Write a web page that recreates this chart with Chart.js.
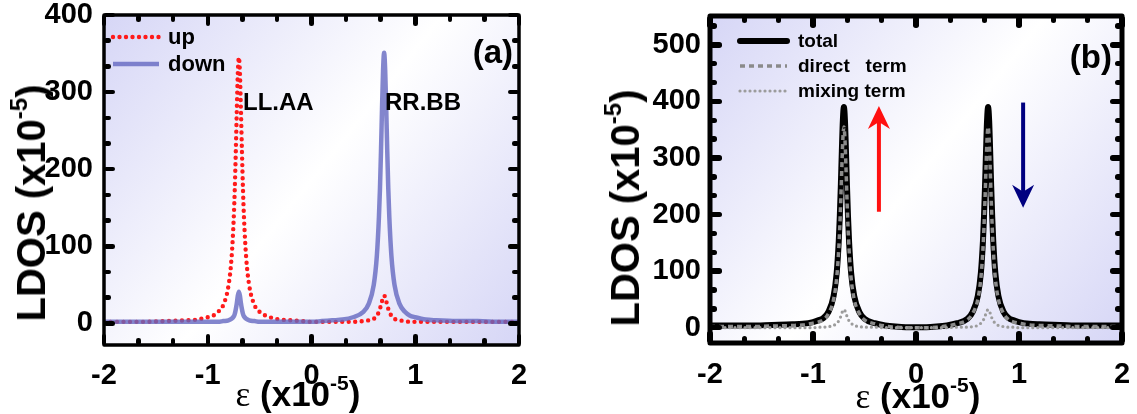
<!DOCTYPE html>
<html>
<head>
<meta charset="utf-8">
<script src="https://cdn.jsdelivr.net/npm/chart.js@4.4.1/dist/chart.umd.min.js"></script>
<style>
  html, body { margin: 0; padding: 0; background: #fff; }
  #wrap { position: relative; width: 1137px; height: 414px; overflow: hidden; font-family: "Liberation Sans", Arial, sans-serif; }
  canvas { position: absolute; top: 0; }
  .lbl { position: absolute; font-weight: bold; color: #000; white-space: nowrap; line-height: 1; }
  .ytitle { transform: translate(-50%, -50%) rotate(-90deg); }
  .xtitle { transform: translate(-50%, -50%); }
  .sup { font-size: 0.6em; position: relative; top: -0.75em; }
  .eps { font-family: "Liberation Serif", serif; font-weight: normal; }
  .tk { position: absolute; background: #000; }
</style>
</head>
<body>
<div id="wrap">
  <canvas id="chartA" width="560" height="414" style="left:0"></canvas>
  <canvas id="chartB" width="577" height="414" style="left:560px"></canvas>

  <div class="lbl ytitle" style="left:31px; top:203px; font-size:40px;">LDOS (x10<span class="sup">-5</span>)</div>
  <div class="lbl xtitle" style="left:298px; top:394px; font-size:35px;"><span class="eps">ε</span> (x10<span class="sup">-5</span>)</div>
  <div class="lbl" style="left:513px; top:51px; font-size:33px; transform:translate(-100%,-50%);">(a)</div>
  <div class="lbl" style="left:243px; top:102px; font-size:24px; transform:translate(0,-50%);">LL.AA</div>
  <div class="lbl" style="left:385px; top:102px; font-size:24px; transform:translate(0,-50%);">RR.BB</div>

  <div class="lbl ytitle" style="left:625px; top:208px; font-size:40px;">LDOS (x10<span class="sup">-5</span>)</div>
  <div class="lbl xtitle" style="left:918px; top:396px; font-size:35px;"><span class="eps">ε</span> (x10<span class="sup">-5</span>)</div>
  <div class="lbl" style="left:1112px; top:56px; font-size:33px; transform:translate(-100%,-50%);">(b)</div>
</div>
<script>
// energy grid (x10^-5), shared by both panels
const eps = [-2, -1.8, -1.6, -1.4, -1.2, -1.1, -1.0, -0.95, -0.9, -0.85, -0.8, -0.77, -0.75, -0.74, -0.73, -0.72, -0.71,
  -0.70, -0.69, -0.68, -0.67, -0.66, -0.65, -0.63, -0.6, -0.55, -0.5, -0.4, -0.3, -0.2, -0.1, 0,
  0.1, 0.2, 0.3, 0.4, 0.5, 0.55, 0.6, 0.63, 0.65, 0.66, 0.67, 0.68, 0.69, 0.70,
  0.71, 0.72, 0.73, 0.74, 0.75, 0.77, 0.8, 0.85, 0.9, 0.95, 1.0, 1.1, 1.2, 1.4, 1.6, 1.8, 2];

// panel (a)
const up = [2, 2, 2, 3, 4, 5, 8, 10, 15, 24, 49, 86, 135, 172, 221, 276, 325,
  345, 325, 276, 221, 172, 135, 86, 49, 24, 15, 8, 5, 4, 3, 2,
  2, 2, 2, 2, 3, 4, 6, 10, 15, 19, 24, 29, 34, 36,
  34, 29, 24, 19, 15, 10, 6, 4, 3, 2, 2, 2, 2, 2, 2, 2, 2];
const down = [2, 2, 2, 2, 2, 2, 2, 2, 2, 3, 4, 6, 9, 12, 18, 26, 36,
  41, 36, 26, 18, 12, 9, 6, 4, 3, 2, 2, 2, 2, 2, 2,
  3, 4, 5, 8, 15, 25, 50, 88, 138, 175, 224, 280, 329, 351,
  329, 280, 224, 175, 138, 88, 50, 25, 15, 10, 8, 5, 4, 3, 3, 2, 2];

// panel (b)
const total = [4, 4, 4, 5, 6, 7, 10, 13, 17, 28, 56, 97, 153, 196, 250, 312, 367,
  390, 367, 312, 250, 196, 153, 97, 56, 28, 16, 8, 4, 2, 1, 1,
  1, 2, 4, 8, 16, 28, 56, 97, 153, 196, 250, 312, 367, 390,
  367, 312, 250, 196, 153, 97, 56, 28, 17, 13, 10, 7, 6, 5, 4, 4, 4];
const direct = [2, 2, 2, 3, 4, 5, 8, 10, 14, 25, 50, 88, 139, 178, 227, 284, 334,
  355, 334, 284, 227, 178, 139, 88, 50, 25, 14, 7, 3, 1, 0, 0,
  0, 1, 3, 7, 14, 25, 50, 88, 139, 178, 227, 284, 334, 355,
  334, 284, 227, 178, 139, 88, 50, 25, 14, 10, 8, 5, 4, 3, 2, 2, 2];
const mixing = [0, 0, 0, 0, 0, 0, 0, 1, 1, 2, 4, 8, 12, 16, 20, 26, 30,
  32, 30, 26, 20, 16, 12, 8, 4, 2, 1, 1, 0, 0, 0, 0,
  0, 0, 0, 1, 1, 2, 4, 8, 12, 16, 20, 26, 30, 32,
  30, 26, 20, 16, 12, 8, 4, 2, 1, 1, 0, 0, 0, 0, 0, 0, 0];

// tick labels
const xTicks = [-2, -1, 0, 1, 2];
const yTicksA = [0, 100, 200, 300, 400];
const yTicksB = [0, 100, 200, 300, 400, 500];

const FONT = '"Liberation Sans", Arial, sans-serif';

// per-canvas frame settings, kept out of the chart options
const frameCfg = {};

// two minor ticks between labelled ones, continued to the axis ends
function minors(major, min, max) {
  const step = (major[1] - major[0]) / 3;
  const out = [];
  for (let v = major[0] - step; v >= min; v -= step) out.push(v);
  major.forEach(m => { out.push(m + step, m + 2 * step); });
  return out.filter(v => v > min && v < max);
}

// drop the extra room Chart.js keeps for overhanging labels
function noPad(s) { s.paddingTop = 0; s.paddingBottom = 0; s.paddingLeft = 0; s.paddingRight = 0; }

const framePlugin = {
  id: 'frame',
  beforeDatasetsDraw(chart) {
    const { ctx, chartArea: a } = chart;
    const g = ctx.createLinearGradient(a.left, a.top, a.right, a.bottom);
    g.addColorStop(0, 'rgb(214,214,246)');
    g.addColorStop(0.5, '#ffffff');
    g.addColorStop(1, 'rgb(214,214,246)');
    ctx.save();
    ctx.fillStyle = g;
    ctx.fillRect(a.left, a.top, a.width, a.height);
    ctx.restore();
  },
  afterDatasetsDraw(chart) {
    const o = frameCfg[chart.canvas.id];
    const { ctx, chartArea: a, scales: { x, y } } = chart;
    ctx.save();
    ctx.setLineDash([]);

    // arrows
    (o.arrows || []).forEach(ar => {
      const px = x.getPixelForValue(ar.x);
      const y0 = y.getPixelForValue(ar.from);
      const y1 = y.getPixelForValue(ar.to);
      const dir = y1 < y0 ? 1 : -1;
      ctx.strokeStyle = ar.color;
      ctx.fillStyle = ar.color;
      ctx.lineWidth = 4;
      ctx.lineCap = 'butt';
      ctx.beginPath();
      ctx.moveTo(px, y0); ctx.lineTo(px, y1 + dir * 14);
      ctx.stroke();
      ctx.beginPath();
      ctx.moveTo(px, y1);
      ctx.lineTo(px - 11, y1 + dir * 23);
      ctx.lineTo(px, y1 + dir * 16);
      ctx.lineTo(px + 11, y1 + dir * 23);
      ctx.closePath();
      ctx.fill();
    });

    // frame
    ctx.strokeStyle = '#000';
    ctx.lineWidth = o.frameWidth;
    ctx.lineJoin = 'round';
    ctx.strokeRect(a.left, a.top, a.width, a.height);

    // legend inside the plot
    const L = o.legend;
    L.items.forEach((idx, i) => {
      const ds = chart.data.datasets[idx];
      const ly = a.top + L.y0 + i * L.dy;
      ctx.beginPath();
      ctx.strokeStyle = ds.borderColor;
      ctx.lineWidth = ds.borderWidth;
      ctx.lineCap = ds.borderCapStyle || 'butt';
      ctx.setLineDash(ds.borderDash || []);
      ctx.moveTo(a.left + L.x0, ly);
      ctx.lineTo(a.left + L.x1, ly);
      ctx.stroke();
      ctx.setLineDash([]);
      ctx.fillStyle = '#000';
      ctx.font = 'bold ' + L.size + 'px ' + FONT;
      ctx.textBaseline = 'middle';
      ctx.fillText(ds.label, a.left + L.tx, ly + 1);
    });
    ctx.restore();
  }
};

// inward frame ticks, placed from the chart's own scales as small page elements
function addTicks(chart, offsetX) {
  const o = frameCfg[chart.canvas.id];
  const { chartArea: a, scales: { x, y } } = chart;
  const wrap = document.getElementById('wrap');
  const w = o.tickWidth;
  const put = (l, t, bw, bh) => {
    const d = document.createElement('div');
    d.className = 'tk';
    d.style.cssText = 'left:' + (offsetX + l) + 'px;top:' + t + 'px;width:' + bw + 'px;height:' + bh + 'px;border-radius:' + (w / 2) + 'px;';
    wrap.appendChild(d);
  };
  const xt = (vals, len) => vals.forEach(v => {
    const px = x.getPixelForValue(v);
    put(px - w / 2, a.bottom - len, w, len);
    put(px - w / 2, a.top, w, len);
  });
  const yt = (vals, len) => vals.forEach(v => {
    const py = y.getPixelForValue(v);
    put(a.left, py - w / 2, len, w);
    put(a.right - len, py - w / 2, len, w);
  });
  xt(xTicks, o.bigTick);
  xt(minors(xTicks, x.min, x.max), o.smallTick);
  yt(o.yTicks, o.bigTick);
  yt(minors(o.yTicks, y.min, y.max), o.smallTick);
}

function makeChart(id, sets, box, yMin, yMax, yTicks, fr) {
  const cv = document.getElementById(id);
  frameCfg[id] = Object.assign({ yTicks }, fr);
  return new Chart(cv, {
    type: 'line',
    data: {
      datasets: sets.map(s => ({
        label: s.label,
        data: eps.map((e, i) => ({ x: e, y: s.values[i] })),
        borderColor: s.color,
        borderWidth: s.width,
        borderDash: s.dash || [],
        borderCapStyle: s.cap || 'butt',
        borderJoinStyle: 'round',
        pointRadius: 0,
        cubicInterpolationMode: 'monotone',
        fill: false
      }))
    },
    options: {
      responsive: false,
      animation: false,
      layout: { padding: { left: 0, top: box.top, right: cv.width - box.right, bottom: 0 } },
      scales: {
        x: {
          type: 'linear', min: -2, max: 2,
          afterFit: s => { s.height = cv.height - box.bottom; noPad(s); },
          afterBuildTicks: s => { s.ticks = xTicks.map(v => ({ value: v })); },
          grid: { display: false, drawTicks: false },
          border: { display: false },
          ticks: { padding: fr.xPad, color: '#000', maxRotation: 0, autoSkip: false, font: { family: FONT, weight: 'bold', size: fr.tickSize } }
        },
        y: {
          min: yMin, max: yMax,
          afterFit: s => { s.width = box.left; noPad(s); },
          afterBuildTicks: s => { s.ticks = yTicks.map(v => ({ value: v })); },
          grid: { display: false, drawTicks: false },
          border: { display: false },
          ticks: { padding: fr.yPad, color: '#000', autoSkip: false, font: { family: FONT, weight: 'bold', size: fr.tickSize } }
        }
      },
      plugins: { legend: { display: false }, tooltip: { enabled: false } }
    },
    plugins: [framePlugin]
  });
}

// dataset 0 is painted on top
const chartA = makeChart('chartA', [
  { label: 'down', values: down, color: 'rgba(100,104,192,0.8)', width: 4.5 },
  { label: 'up', values: up, color: '#ff1a1a', width: 4.4, dash: [0, 6.5], cap: 'round' }
], { left: 104, right: 519, top: 15, bottom: 345 }, -28, 400, yTicksA, {
  tickSize: 29, xPad: 14, yPad: 11, tickWidth: 4.5, bigTick: 11, smallTick: 7, frameWidth: 3.5,
  legend: { items: [1, 0], x0: 9, x1: 55, tx: 64, y0: 22, dy: 27, size: 22 }
});

const chartB = makeChart('chartB', [
  { label: 'mixing term', values: mixing, color: '#9c9c9c', width: 3.2, dash: [0, 5], cap: 'round' },
  { label: 'direct   term', values: direct, color: '#8a8a8a', width: 3.5, dash: [5, 4] },
  { label: 'total', values: total, color: '#000', width: 6, cap: 'round' }
], { left: 150, right: 562, top: 16, bottom: 343 }, -27, 551, yTicksB, {
  tickSize: 29, xPad: 15, yPad: 9, tickWidth: 5.5, bigTick: 12, smallTick: 7, frameWidth: 5,
  legend: { items: [2, 1, 0], x0: 30, x1: 77, tx: 88, y0: 25, dy: 25, size: 19 },
  arrows: [
    { x: -0.36, from: 205, to: 392, color: '#ff1010' },
    { x: 1.04, from: 398, to: 212, color: '#000080' }
  ]
});

addTicks(chartA, 0);
addTicks(chartB, 560);
</script>
</body>
</html>
